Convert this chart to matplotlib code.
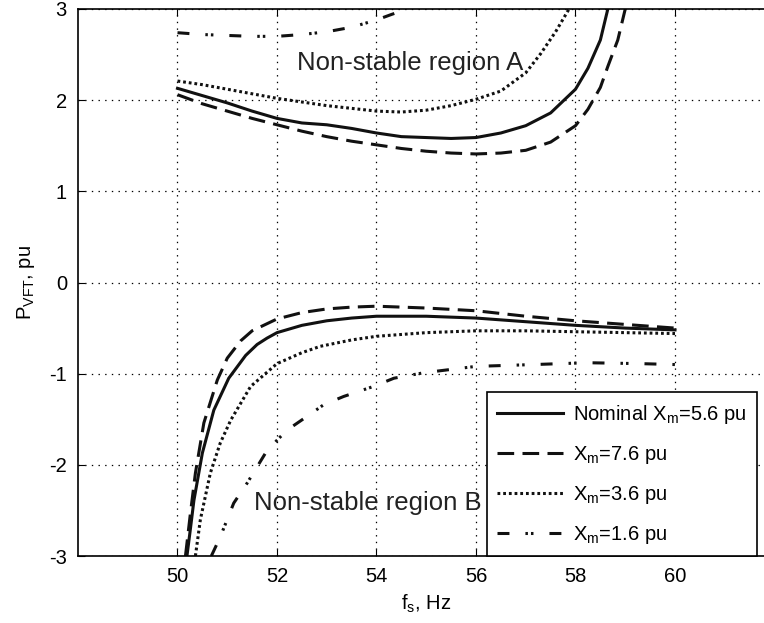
import matplotlib
matplotlib.use("Agg")
import matplotlib.pyplot as plt

plt.rcParams['font.family'] = ['Liberation Sans', 'DejaVu Sans']
plt.rcParams['mathtext.fontset'] = 'custom'
plt.rcParams['mathtext.rm'] = 'Liberation Sans'
plt.rcParams['mathtext.it'] = 'Liberation Sans'
plt.rcParams['mathtext.default'] = 'regular'
plt.rcParams['axes.unicode_minus'] = False
plt.rcParams['lines.scale_dashes'] = False

# data
# nominal Xm = 5.6 pu
nom_up_x = [50, 50.5, 51, 51.5, 52, 52.5, 53, 53.5, 54, 54.5, 55, 55.5, 56, 56.5, 57, 57.5, 58, 58.25, 58.5, 58.65]
nom_up_y = [2.13, 2.05, 1.97, 1.88, 1.80, 1.75, 1.73, 1.69, 1.64, 1.60, 1.59, 1.58, 1.59, 1.64, 1.72, 1.86, 2.12, 2.35, 2.66, 3.0]
nom_lo_x = [50.19, 50.26, 50.33, 50.5, 50.73, 51.03, 51.37, 51.6, 51.8, 52, 52.5, 53, 53.5, 54, 55, 56, 57, 58, 59, 60]
nom_lo_y = [-3.0, -2.7, -2.39, -1.87, -1.40, -1.05, -0.80, -0.68, -0.61, -0.55, -0.47, -0.42, -0.39, -0.37, -0.37, -0.39, -0.43, -0.47, -0.50, -0.52]

# Xm = 7.6 pu
x76_up_x = [50, 50.5, 51, 51.5, 52, 52.5, 53, 53.5, 54, 54.5, 55, 55.5, 56, 56.5, 57, 57.5, 58, 58.25, 58.5, 58.65, 58.85, 59.0]
x76_up_y = [2.06, 1.96, 1.88, 1.80, 1.73, 1.66, 1.60, 1.55, 1.51, 1.47, 1.44, 1.42, 1.41, 1.42, 1.45, 1.54, 1.72, 1.90, 2.14, 2.37, 2.66, 3.0]
x76_lo_x = [50.16, 50.26, 50.36, 50.53, 50.8, 51.0, 51.27, 51.5, 52, 52.5, 53, 53.5, 54, 55, 56, 57, 58, 59, 60]
x76_lo_y = [-3.0, -2.53, -2.09, -1.54, -1.07, -0.83, -0.64, -0.53, -0.40, -0.33, -0.29, -0.27, -0.26, -0.28, -0.31, -0.37, -0.42, -0.46, -0.50]

# Xm = 3.6 pu
x36_up_x = [50, 50.5, 51, 51.5, 52, 52.5, 53, 53.5, 54, 54.5, 55, 55.5, 56, 56.5, 57, 57.3, 57.6, 57.87]
x36_up_y = [2.21, 2.17, 2.12, 2.07, 2.02, 1.98, 1.94, 1.91, 1.88, 1.87, 1.89, 1.94, 2.01, 2.10, 2.30, 2.51, 2.75, 3.0]
x36_lo_x = [50.36, 50.46, 50.66, 50.86, 51.07, 51.47, 52, 52.5, 52.87, 53.5, 54, 55, 56, 57, 58, 59, 60]
x36_lo_y = [-3.0, -2.6, -2.09, -1.76, -1.51, -1.14, -0.89, -0.77, -0.70, -0.63, -0.59, -0.55, -0.53, -0.53, -0.54, -0.55, -0.56]

# Xm = 1.6 pu
x16_up_x = [50, 50.5, 51, 51.5, 52, 52.5, 53, 53.5, 54, 54.3, 54.62]
x16_up_y = [2.74, 2.72, 2.71, 2.70, 2.70, 2.72, 2.75, 2.80, 2.88, 2.94, 3.0]
x16_lo_x = [50.68, 50.86, 51.13, 51.4, 51.77, 52, 52.2, 52.6, 52.94, 53.34, 53.94, 54.35, 54.95, 56, 57.16, 58.24, 59.3, 60]
x16_lo_y = [-3.0, -2.79, -2.42, -2.20, -1.87, -1.73, -1.62, -1.47, -1.34, -1.25, -1.14, -1.05, -0.99, -0.92, -0.90, -0.88, -0.89, -0.90]

labels = ['Nominal X$_m$=5.6 pu', 'X$_m$=7.6 pu', 'X$_m$=3.6 pu', 'X$_m$=1.6 pu']
x_ticks = [50, 52, 54, 56, 58, 60]
y_ticks = [-3, -2, -1, 0, 1, 2, 3]

styles = [
    dict(linestyle='-'),
    dict(linestyle=(0, (12, 6))),
    dict(linestyle=(0, (2.0, 2.1))),
    dict(linestyle=(0, (8.6, 11.5, 1.8, 2.2, 1.8, 11.5))),
]

fig = plt.figure(figsize=(7.64, 6.23), dpi=100)
ax = fig.add_axes([78 / 764, 67 / 623, 696.5 / 764, 547 / 623])

series = [
    (nom_up_x, nom_up_y, nom_lo_x, nom_lo_y),
    (x76_up_x, x76_up_y, x76_lo_x, x76_lo_y),
    (x36_up_x, x36_up_y, x36_lo_x, x36_lo_y),
    (x16_up_x, x16_up_y, x16_lo_x, x16_lo_y),
]
handles = []
for (ux, uy, lx, ly), st, lab in zip(series, styles, labels):
    h, = ax.plot(ux, uy, color='#111111', lw=2.2, dash_capstyle='butt', label=lab, **st)
    ax.plot(lx, ly, color='#111111', lw=2.2, dash_capstyle='butt', **st)
    handles.append(h)

ax.set_xlim(48, 62)
ax.set_ylim(-3, 3)
ax.set_xticks(x_ticks)
ax.set_yticks(y_ticks)
ax.grid(True, color='black', linestyle=(0, (1.0, 3.8)), linewidth=0.9)
ax.tick_params(direction='in', length=5, width=0.8, labelsize=14.5, top=True, right=True, pad=8)
for s in ax.spines.values():
    s.set_linewidth(1.2)

ax.set_xlabel('f$_s$, Hz', fontsize=14.5, labelpad=5)
ax.set_ylabel('P$_{VFT}$, pu', fontsize=14.5, labelpad=9)

ax.text(52.41, 2.41, 'Non-stable region A', fontsize=18.5, va='center', ha='left', color='#222222')
ax.text(51.53, -2.42, 'Non-stable region B', fontsize=18.5, va='center', ha='left', color='#222222')

leg = ax.legend(handles=handles, loc='lower left', bbox_to_anchor=(0.587, 0.0),
                fontsize=14.5, frameon=True, fancybox=False, edgecolor='black',
                framealpha=1, borderaxespad=0, handlelength=3.3, handletextpad=0.5,
                labelspacing=0.9, borderpad=0.5)
leg.get_frame().set_linewidth(1.2)

fig.savefig('out.png', dpi=100)
